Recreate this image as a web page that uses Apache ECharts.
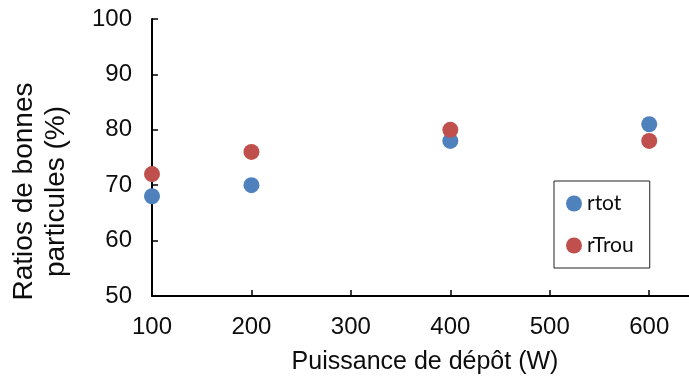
<!DOCTYPE html>
<html><head><meta charset="utf-8">
<script src="https://cdn.jsdelivr.net/npm/echarts@6/dist/echarts.min.js"></script>
<style>html,body{margin:0;padding:0;background:#fff}#c{width:689px;height:377px}</style>
</head><body><div id="c"></div>
<script>
const xValues = [100, 200, 400, 600];
const rtot = [68, 70, 78, 81];
const rTrou = [72, 76, 80, 78];
const seriesNames = ['rtot', 'rTrou'];
const xTitle = 'Puissance de dépôt (W)';
const yTitleLines = ['Ratios de bonnes', 'particules (%)'];

const chart = echarts.init(document.getElementById('c'), null, {renderer: 'canvas'});
const font = 'Liberation Sans, Arial, sans-serif';
const txt = '#0d0d0d';
chart.setOption({
  animation: false,
  grid: {left: 152, top: 19, width: 540, height: 277, containLabel: false},
  xAxis: {
    type: 'value', min: 100, max: 640, interval: 100,
    axisLine: {lineStyle: {color: '#000', width: 2}},
    axisTick: {inside: true, length: 6, lineStyle: {color: '#000', width: 1.5}},
    axisLabel: {fontFamily: font, fontSize: 24, color: txt, margin: 19, showMaxLabel: false},
    splitLine: {show: false}
  },
  yAxis: {
    type: 'value', min: 50, max: 100, interval: 10,
    axisLine: {lineStyle: {color: '#000', width: 2}},
    axisTick: {show: true, inside: true, length: 6, lineStyle: {color: '#000', width: 1.5}},
    axisLabel: {fontFamily: font, fontSize: 24, color: txt, margin: 20},
    splitLine: {show: false}
  },
  graphic: [
    {type: 'text', x: 24, y: 191.5, rotation: Math.PI / 2,
     style: {text: yTitleLines[0], font: '28px ' + font, fill: txt, textAlign: 'center', textVerticalAlign: 'middle', align: 'center', verticalAlign: 'middle'}},
    {type: 'text', x: 56, y: 191.5, rotation: Math.PI / 2,
     style: {text: yTitleLines[1], font: '28px ' + font, fill: txt, textAlign: 'center', textVerticalAlign: 'middle', align: 'center', verticalAlign: 'middle'}},
    {type: 'text', x: 425, y: 362,
     style: {text: xTitle, font: '25px ' + font, fill: txt, textAlign: 'center', textVerticalAlign: 'middle', align: 'center', verticalAlign: 'middle'}}
  ],
  legend: {
    orient: 'vertical', left: 554, top: 181,
    padding: [12, 16, 12, 12], itemGap: 21,
    borderColor: '#222', borderWidth: 1,
    itemWidth: 16, itemHeight: 16, icon: 'circle',
    textStyle: {fontFamily: 'Lato, Carlito, sans-serif', fontSize: 21, color: txt, padding: [0, 0, 0, 0]},
    data: seriesNames
  },
  series: [
    {name: seriesNames[0], type: 'scatter', symbolSize: 16, itemStyle: {color: '#4F81BD', opacity: 1},
     data: xValues.map((x, i) => [x, rtot[i]])},
    {name: seriesNames[1], type: 'scatter', symbolSize: 16, itemStyle: {color: '#C0504D', opacity: 1},
     data: xValues.map((x, i) => [x, rTrou[i]])}
  ]
});
</script></body></html>
